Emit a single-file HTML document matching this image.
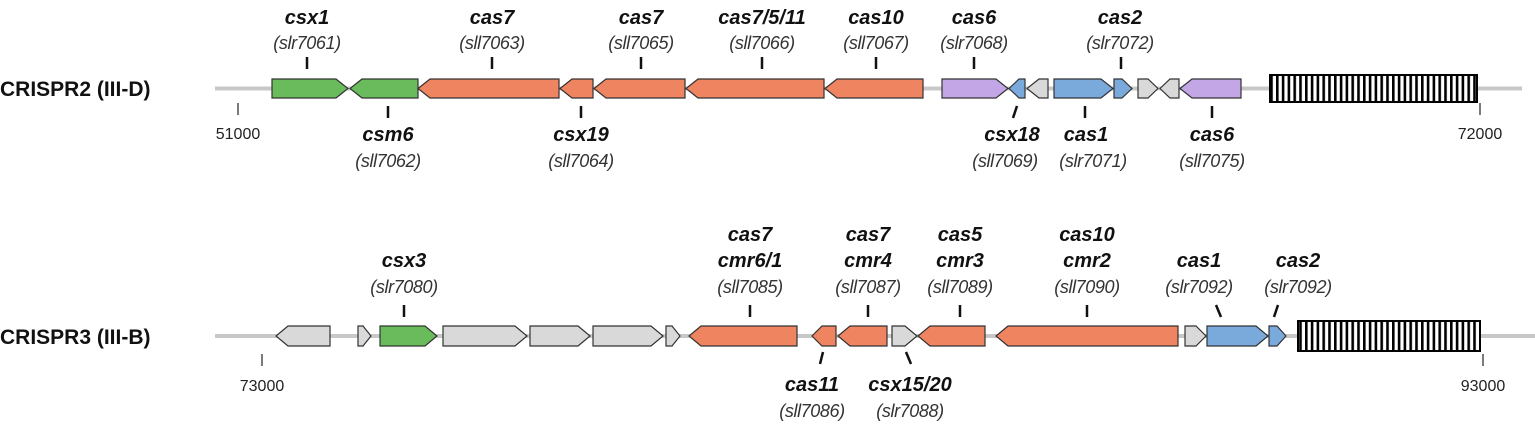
<!DOCTYPE html>
<html><head><meta charset="utf-8"><style>
html,body{margin:0;padding:0;background:#fff;}
svg{display:block;}
.b{font-family:"Liberation Sans",sans-serif;font-weight:bold;font-style:italic;font-size:20px;fill:#111;}
.p{font-family:"Liberation Sans",sans-serif;font-style:italic;font-size:18px;fill:#333;letter-spacing:-0.4px;}
.n{font-family:"Liberation Sans",sans-serif;font-size:16px;fill:#222;}
.t{font-family:"Liberation Sans",sans-serif;font-weight:bold;font-size:21px;fill:#111;}
.g{stroke:#333;stroke-width:1.2;stroke-linejoin:miter;}
.tk{stroke:#111;stroke-width:2.5;}
.tn{stroke:#222;stroke-width:1.2;}
</style></head><body>
<svg width="1535" height="428" viewBox="0 0 1535 428" xmlns="http://www.w3.org/2000/svg">
<defs>
<pattern id="st" x="0" y="0" width="5.8" height="10" patternUnits="userSpaceOnUse">
<rect width="5.8" height="10" fill="#fff"/><rect width="2.6" height="10" fill="#000"/>
</pattern>
</defs>
<!-- Row 1 -->
<text class="t" x="0" y="96">CRISPR2 (III-D)</text>
<line x1="215" y1="88.5" x2="1522" y2="88.5" stroke="#c8c8c8" stroke-width="4"/>
<line class="tn" x1="238" y1="103" x2="238" y2="115"/><text class="n" x="238" y="139" text-anchor="middle">51000</text>
<line class="tn" x1="1480" y1="103" x2="1480" y2="115"/><text class="n" x="1480" y="139" text-anchor="middle">72000</text>
<g class="g">
<polygon fill="#6abb5c" points="272,79 336,79 348,88.5 336,98 272,98"/>
<polygon fill="#6abb5c" points="418,79 362,79 350,88.5 362,98 418,98"/>
<polygon fill="#ef8461" points="559,79 430,79 418,88.5 430,98 559,98"/>
<polygon fill="#ef8461" points="593,79 572,79 560,88.5 572,98 593,98"/>
<polygon fill="#ef8461" points="685,79 606,79 594,88.5 606,98 685,98"/>
<polygon fill="#ef8461" points="824,79 698,79 686,88.5 698,98 824,98"/>
<polygon fill="#ef8461" points="923,79 837,79 825,88.5 837,98 923,98"/>
<polygon fill="#c3a6e6" points="942,79 996,79 1008,88.5 996,98 942,98"/>
<polygon fill="#7aaadb" points="1025,79 1019,79 1009,88.5 1019,98 1025,98"/>
<polygon fill="#d9d9d9" points="1048,79 1039,79 1027,88.5 1039,98 1048,98"/>
<polygon fill="#7aaadb" points="1054,79 1101,79 1113,88.5 1101,98 1054,98"/>
<polygon fill="#7aaadb" points="1114,79 1122,79 1132,88.5 1122,98 1114,98"/>
<polygon fill="#d9d9d9" points="1138,79 1148,79 1158,88.5 1148,98 1138,98"/>
<polygon fill="#d9d9d9" points="1179,79 1170,79 1160,88.5 1170,98 1179,98"/>
<polygon fill="#c3a6e6" points="1241,79 1192,79 1180,88.5 1192,98 1241,98"/>
</g>
<rect x="1270" y="75" width="207" height="27" fill="url(#st)" stroke="#000" stroke-width="2"/>
<g text-anchor="middle">
<text class="b" x="307" y="24">csx1</text><text class="p" x="307" y="49">(slr7061)</text>
<text class="b" x="492" y="24">cas7</text><text class="p" x="492" y="49">(sll7063)</text>
<text class="b" x="641" y="24">cas7</text><text class="p" x="641" y="49">(sll7065)</text>
<text class="b" x="762" y="24">cas7/5/11</text><text class="p" x="762" y="49">(sll7066)</text>
<text class="b" x="876" y="24">cas10</text><text class="p" x="876" y="49">(sll7067)</text>
<text class="b" x="974" y="24">cas6</text><text class="p" x="974" y="49">(slr7068)</text>
<text class="b" x="1120" y="24">cas2</text><text class="p" x="1120" y="49">(slr7072)</text>
<text class="b" x="388" y="141">csm6</text><text class="p" x="388" y="167">(sll7062)</text>
<text class="b" x="581" y="141">csx19</text><text class="p" x="581" y="167">(sll7064)</text>
<text class="b" x="1012" y="141">csx18</text><text class="p" x="1005" y="167">(sll7069)</text>
<text class="b" x="1086" y="141">cas1</text><text class="p" x="1093" y="167">(slr7071)</text>
<text class="b" x="1212" y="141">cas6</text><text class="p" x="1212" y="167">(sll7075)</text>
</g>
<g class="tk">
<line x1="307" y1="57" x2="307" y2="69"/><line x1="492" y1="57" x2="492" y2="69"/><line x1="641" y1="57" x2="641" y2="69"/>
<line x1="762" y1="57" x2="762" y2="69"/><line x1="876" y1="57" x2="876" y2="69"/><line x1="974" y1="57" x2="974" y2="69"/>
<line x1="1121" y1="57" x2="1121" y2="69"/>
<line x1="388" y1="106" x2="388" y2="118"/><line x1="581" y1="106" x2="581" y2="118"/>
<line x1="1017" y1="106" x2="1013" y2="118"/><line x1="1085" y1="106" x2="1085" y2="118"/><line x1="1212" y1="106" x2="1212" y2="118"/>
</g>
<!-- Row 2 -->
<text class="t" x="0" y="344">CRISPR3 (III-B)</text>
<line x1="215" y1="336" x2="1535" y2="336" stroke="#c8c8c8" stroke-width="4"/>
<line class="tn" x1="262" y1="354" x2="262" y2="366"/><text class="n" x="262" y="391" text-anchor="middle">73000</text>
<line class="tn" x1="1483" y1="354" x2="1483" y2="366"/><text class="n" x="1483" y="391" text-anchor="middle">93000</text>
<g class="g">
<polygon fill="#d9d9d9" points="330,326 288,326 276,336 288,346 330,346"/>
<polygon fill="#d9d9d9" points="358,326 363,326 371,336 363,346 358,346"/>
<polygon fill="#6abb5c" points="380,326 425,326 437,336 425,346 380,346"/>
<polygon fill="#d9d9d9" points="443,326 515,326 527,336 515,346 443,346"/>
<polygon fill="#d9d9d9" points="530,326 578,326 590,336 578,346 530,346"/>
<polygon fill="#d9d9d9" points="593,326 651,326 663,336 651,346 593,346"/>
<polygon fill="#d9d9d9" points="666,326 672,326 680,336 672,346 666,346"/>
<polygon fill="#ef8461" points="797,326 701,326 689,336 701,346 797,346"/>
<polygon fill="#ef8461" points="836,326 822,326 812,336 822,346 836,346"/>
<polygon fill="#ef8461" points="887,326 850,326 838,336 850,346 887,346"/>
<polygon fill="#d9d9d9" points="892,326 905,326 917,336 905,346 892,346"/>
<polygon fill="#ef8461" points="985,326 930,326 918,336 930,346 985,346"/>
<polygon fill="#ef8461" points="1178,326 1008,326 996,336 1008,346 1178,346"/>
<polygon fill="#d9d9d9" points="1185,326 1196,326 1206,336 1196,346 1185,346"/>
<polygon fill="#7aaadb" points="1207,326 1256,326 1268,336 1256,346 1207,346"/>
<polygon fill="#7aaadb" points="1269,326 1277,326 1286,336 1277,346 1269,346"/>
</g>
<rect x="1298" y="321" width="182" height="30" fill="url(#st)" stroke="#000" stroke-width="2"/>
<g text-anchor="middle">
<text class="b" x="404" y="267">csx3</text><text class="p" x="404" y="293">(slr7080)</text>
<text class="b" x="750" y="241">cas7</text><text class="b" x="750" y="267">cmr6/1</text><text class="p" x="750" y="293">(sll7085)</text>
<text class="b" x="868" y="241">cas7</text><text class="b" x="868" y="267">cmr4</text><text class="p" x="868" y="293">(sll7087)</text>
<text class="b" x="960" y="241">cas5</text><text class="b" x="960" y="267">cmr3</text><text class="p" x="960" y="293">(sll7089)</text>
<text class="b" x="1087" y="241">cas10</text><text class="b" x="1087" y="267">cmr2</text><text class="p" x="1087" y="293">(sll7090)</text>
<text class="b" x="1199" y="267">cas1</text><text class="p" x="1199" y="293">(slr7092)</text>
<text class="b" x="1298" y="267">cas2</text><text class="p" x="1298" y="293">(slr7092)</text>
<text class="b" x="812" y="391">cas11</text><text class="p" x="812" y="417">(sll7086)</text>
<text class="b" x="910" y="391">csx15/20</text><text class="p" x="910" y="417">(slr7088)</text>
</g>
<g class="tk">
<line x1="404" y1="305" x2="404" y2="317"/><line x1="750" y1="305" x2="750" y2="317"/><line x1="868" y1="305" x2="868" y2="317"/>
<line x1="960" y1="305" x2="960" y2="317"/><line x1="1087" y1="305" x2="1087" y2="317"/>
<line x1="1216" y1="305" x2="1221" y2="317"/><line x1="1278" y1="305" x2="1274" y2="317"/>
<line x1="823" y1="352" x2="820" y2="364"/><line x1="906" y1="352" x2="911" y2="364"/>
</g>
</svg>
</body></html>
